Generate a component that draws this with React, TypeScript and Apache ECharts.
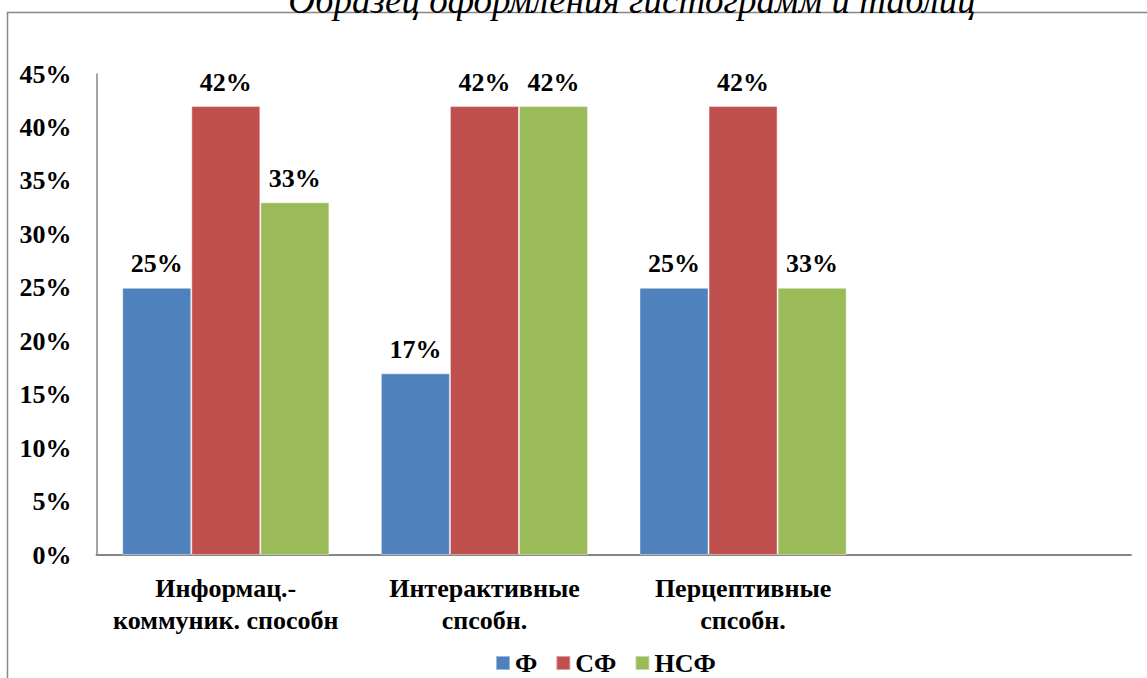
import React, { useEffect, useRef } from "react";
import * as echarts from "echarts";

const categories = ["Информац.-\nкоммуник. способн", "Интерактивные\nспсобн.", "Перцептивные\nспсобн.", ""];
const seriesNames = ["Ф", "СФ", "НСФ"];
const fValues = [25, 17, 25];
const sfValues = [42, 42, 42];
const nsfValues = [33, 42, 25];
const fLabels = ["25%", "17%", "25%"];
const sfLabels = ["42%", "42%", "42%"];
const nsfLabels = ["33%", "42%", "33%"];
const yTicks = { min: 0, max: 45, interval: 5 };
const titleText = "Образец оформления гистограмм и таблиц";

const colors = ["#4F81BD", "#C0504D", "#9BBB59"];
const FONT = "'Liberation Serif', 'Times New Roman', serif";
const FS = 26;

export default function App() {
  const ref = useRef<HTMLDivElement>(null);
  useEffect(() => {
    document.body.style.margin = "0";
    const chart = echarts.init(ref.current!, undefined, { renderer: "svg" });
    const mk = (name: string, data: number[], labels: string[], color: string) => ({
      name,
      type: "bar",
      data,
      barGap: "0%",
      barCategoryGap: "19.9%",
      itemStyle: { color, borderColor: "rgba(255,255,255,0.45)", borderWidth: 1 },
      label: {
        show: true,
        position: "top",
        distance: 11,
        color: "#000",
        fontFamily: FONT,
        fontWeight: "bold",
        fontSize: FS,
        formatter: (p: any) => labels[p.dataIndex] ?? "",
      },
    });
    chart.setOption({
      animation: false,
      textStyle: { fontFamily: FONT },
      grid: { left: 96.5, right: 16, top: 74, bottom: 123, containLabel: false },
      legend: {
        left: 490,
        top: 645,
        itemWidth: 14,
        itemHeight: 14,
        itemGap: 18,
        icon: "rect",
        textStyle: { fontFamily: FONT, fontWeight: "bold", fontSize: FS, color: "#000" },
        data: seriesNames,
      },
      graphic: [
        {
          type: "rect",
          z: -1,
          shape: { x: 7.5, y: 12.5, width: 1400, height: 900 },
          style: { fill: "none", stroke: "#878787", lineWidth: 1.5 },
          silent: true,
        },
        {
          type: "text",
          x: 632,
          y: 19,
          style: {
            text: titleText,
            fontFamily: FONT,
            fontStyle: "italic",
            fontSize: 37,
            fill: "#000",
            align: "center",
            verticalAlign: "bottom",
          },
          silent: true,
        },
      ],
      xAxis: {
        type: "category",
        data: categories,
        axisLine: { lineStyle: { color: "#868686", width: 2 } },
        axisTick: { show: false },
        axisLabel: {
          color: "#000",
          fontFamily: FONT,
          fontWeight: "bold",
          fontSize: FS,
          lineHeight: 32,
          margin: 17,
          interval: 0,
        },
      },
      yAxis: {
        type: "value",
        min: yTicks.min,
        max: yTicks.max,
        interval: yTicks.interval,
        splitLine: { show: false },
        axisLine: { show: true, lineStyle: { color: "#868686", width: 1.5 } },
        axisTick: { show: false },
        axisLabel: {
          color: "#000",
          fontFamily: FONT,
          fontWeight: "bold",
          fontSize: FS,
          margin: 25,
          formatter: "{value}%",
        },
      },
      series: [
        mk(seriesNames[0], fValues, fLabels, colors[0]),
        mk(seriesNames[1], sfValues, sfLabels, colors[1]),
        mk(seriesNames[2], nsfValues, nsfLabels, colors[2]),
      ],
    });
    return () => chart.dispose();
  }, []);
  return <div ref={ref} style={{ width: 1147, height: 678 }} />;
}
